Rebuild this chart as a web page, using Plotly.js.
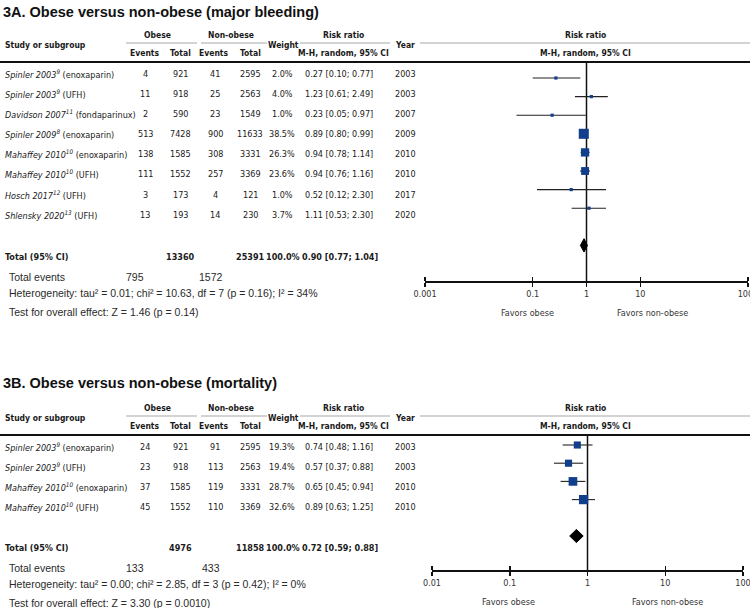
<!DOCTYPE html>
<html><head><meta charset="utf-8">
<script src="https://cdn.plot.ly/plotly-3.0.1.min.js"></script>
<style>html,body{margin:0;padding:0;background:#fff}</style>
</head><body><div id="chart" style="width:750px;height:608px"></div>
<script>
// ---------- Panel A data: major bleeding ----------
const studiesA = ['Spinler 2003', 'Spinler 2003', 'Davidson 2007', 'Spinler 2009', 'Mahaffey 2010', 'Mahaffey 2010', 'Hosch 2017', 'Shlensky 2020'];
const refsA = ['9', '9', '11', '8', '10', '10', '12', '13'];
const drugsA = ['enoxaparin', 'UFH', 'fondaparinux', 'enoxaparin', 'enoxaparin', 'UFH', 'UFH', 'UFH'];
const obeseEventsA = [4, 11, 2, 513, 138, 111, 3, 13];
const obeseTotalA = [921, 918, 590, 7428, 1585, 1552, 173, 193];
const nonObeseEventsA = [41, 25, 23, 900, 308, 257, 4, 14];
const nonObeseTotalA = [2595, 2563, 1549, 11633, 3331, 3369, 121, 230];
const weightA = [2.0, 4.0, 1.0, 38.5, 26.3, 23.6, 1.0, 3.7];
const rrA = [0.27, 1.23, 0.23, 0.89, 0.94, 0.94, 0.52, 1.11];
const lowerA = [0.10, 0.61, 0.05, 0.80, 0.78, 0.76, 0.12, 0.53];
const upperA = [0.77, 2.49, 0.97, 0.99, 1.14, 1.16, 2.30, 2.30];
const yearA = [2003, 2003, 2007, 2009, 2010, 2010, 2017, 2020];
const totalA = {obese: 13360, nonObese: 25391, weight: 100.0, rr: 0.90, lo: 0.77, hi: 1.04, evObese: 795, evNonObese: 1572};
const hetA = 'Heterogeneity: tau² = 0.01; chi² = 10.63, df = 7 (p = 0.16); I² = 34%';
const testA = 'Test for overall effect: Z = 1.46 (p = 0.14)';
const tickValsA = [0.001, 0.1, 1, 10, 1000];
const tickTextA = ['0.001', '0.1', '1', '10', '1000'];

// ---------- Panel B data: mortality ----------
const studiesB = ['Spinler 2003', 'Spinler 2003', 'Mahaffey 2010', 'Mahaffey 2010'];
const refsB = ['9', '9', '10', '10'];
const drugsB = ['enoxaparin', 'UFH', 'enoxaparin', 'UFH'];
const obeseEventsB = [24, 23, 37, 45];
const obeseTotalB = [921, 918, 1585, 1552];
const nonObeseEventsB = [91, 113, 119, 110];
const nonObeseTotalB = [2595, 2563, 3331, 3369];
const weightB = [19.3, 19.4, 28.7, 32.6];
const rrB = [0.74, 0.57, 0.65, 0.89];
const lowerB = [0.48, 0.37, 0.45, 0.63];
const upperB = [1.16, 0.88, 0.94, 1.25];
const yearB = [2003, 2003, 2010, 2010];
const totalB = {obese: 4976, nonObese: 11858, weight: 100.0, rr: 0.72, lo: 0.59, hi: 0.88, evObese: 133, evNonObese: 433};
const hetB = 'Heterogeneity: tau² = 0.00; chi² = 2.85, df = 3 (p = 0.42); I² = 0%';
const testB = 'Test for overall effect: Z = 3.30 (p = 0.0010)';
const tickValsB = [0.01, 0.1, 1, 10, 100];
const tickTextB = ['0.01', '0.1', '1', '10', '100'];

const NULL_EFFECT = 1;

// ---------- styling / layout helpers ----------
const W = 750, H = 608;
const X = p => p / W;
const Y = p => 1 - p / H;
const NARROW = '"Liberation Sans Narrow", "Arial Narrow", "DejaVu Sans Condensed", sans-serif';
const REG = '"Liberation Sans", Arial, sans-serif';
const TXT = '#1a1a1a';
const BLUE = '#123f8c';
const BODY = 9.0, HEAD = 8.5, TICK = 9.0;
const annotations = [];
const shapes = [];
const traces = [];
const layout = {
  width: W, height: H, margin: {l: 0, r: 0, t: 0, b: 0},
  paper_bgcolor: '#fff', plot_bgcolor: 'rgba(0,0,0,0)', showlegend: false
};

function txt(t, x, y, o = {}) {
  annotations.push({
    text: t, x: X(x), y: Y(y), xref: 'paper', yref: 'paper', showarrow: false,
    xanchor: o.anchor || 'center', yanchor: 'middle',
    font: {family: o.family || NARROW, size: o.size || BODY, color: o.color || TXT}
  });
}
function hline(x0, x1, y, w, c) {
  shapes.push({type: 'line', xref: 'paper', yref: 'paper', x0: X(x0), x1: X(x1), y0: Y(y), y1: Y(y),
    line: {color: c, width: w}});
}
const fmt = v => v.toFixed(2);
const rrText = (r, l, u) => `${fmt(r)} [${fmt(l)}; ${fmt(u)}]`;

function panel(d) {
  const o = d.off; // vertical pixel offset
  txt('<b>' + d.title + '</b>', 1, d.titlePx, {anchor: 'left', family: REG, size: 14.5, color: '#111'});
  const H1 = {size: HEAD};
  txt('<b>Obese</b>', 157, 35 + o, H1);
  txt('<b>Non-obese</b>', 231, 35 + o, H1);
  txt('<b>Risk ratio</b>', 343, 35 + o, H1);
  txt('<b>Risk ratio</b>', 585, 35 + o, H1);
  txt('<b>Study or subgroup</b>', 3, 45 + o, {anchor: 'left', size: HEAD});
  txt('<b>Weight</b>', 283, 45 + o, H1);
  txt('<b>Year</b>', 405, 45 + o, H1);
  txt('<b>Events</b>', 145, 53 + o, H1);
  txt('<b>Total</b>', 180, 53 + o, H1);
  txt('<b>Events</b>', 214, 53 + o, H1);
  txt('<b>Total</b>', 250, 53 + o, H1);
  txt('<b>M-H, random, 95% CI</b>', 343, 53 + o, H1);
  txt('<b>M-H, random, 95% CI</b>', 585, 53 + o, H1);
  const g = '#c4c4c4';
  hline(126, 197, 43 + o, 1.5, g);
  hline(201, 267, 43 + o, 1.5, g);
  hline(300, 390, 43 + o, 1.5, g);
  hline(420, 750, 43 + o, 1.5, g);
  hline(0, 750, 62 + o, 2, '#111');

  const n = d.studies.length;
  for (let i = 0; i < n; i++) {
    const y = 74 + o + i * 20.1;
    txt(`<i>${d.studies[i]}<sup>${d.refs[i]}</sup></i> (${d.drugs[i]})`, 3, y, {anchor: 'left'});
    txt(String(d.oe[i]), 145, y);
    txt(String(d.ot[i]), 180, y);
    txt(String(d.ne[i]), 215, y);
    txt(String(d.nt[i]), 250, y);
    txt(d.w[i].toFixed(1) + '%', 282, y);
    txt(rrText(d.rr[i], d.lo[i], d.hi[i]), 339, y);
    txt(String(d.yr[i]), 405, y);
  }
  const tY = d.totalPx;
  txt('<b>Total (95% CI)</b>', 3, tY, {anchor: 'left'});
  txt('<b>' + d.tot.obese + '</b>', 180, tY);
  txt('<b>' + d.tot.nonObese + '</b>', 250, tY);
  txt('<b>' + d.tot.weight.toFixed(1) + '%</b>', 283, tY);
  txt('<b>' + rrText(d.tot.rr, d.tot.lo, d.tot.hi) + '</b>', 340, tY);
  const F = {family: REG, size: 10.5, color: '#2a2a2a'};
  txt('Total events', 7, tY + 20, Object.assign({anchor: 'left'}, F));
  txt(String(d.tot.evObese), 135, tY + 20, F);
  txt(String(d.tot.evNonObese), 211, tY + 20, F);
  txt(d.het, 7, tY + 36, Object.assign({anchor: 'left'}, F));
  txt(d.test, 7, tY + 55, Object.assign({anchor: 'left'}, F));
  txt('Favors obese', d.favL, d.axisPx + 32, {size: TICK, color: '#333'});
  txt('Favors non-obese', d.favR, d.axisPx + 32, {size: TICK, color: '#333'});

  // forest plot axes
  const xa = 'xaxis' + d.k, ya = 'yaxis' + d.k, xo = 'xaxis' + (d.k + 2);
  const xr = 'x' + d.k, yr = 'y' + d.k, xor = 'x' + (d.k + 2);
  const yBottom = (d.axisPx - d.row0Px) / d.stepPx;
  const yTop = (d.topPx - d.row0Px) / d.stepPx;
  const dom = [X(d.x0Px), X(d.x1Px)];
  const tickCommon = {
    type: 'log', domain: dom, range: [Math.log10(d.tickVals[0]), Math.log10(d.tickVals[d.tickVals.length - 1])],
    tickmode: 'array', tickvals: d.tickVals, ticktext: d.tickText, showgrid: false, zeroline: false,
    ticks: 'outside', ticklen: 4, tickwidth: 1.5, tickcolor: '#111', fixedrange: true
  };
  layout[xa] = Object.assign({}, tickCommon, {
    anchor: yr, showline: true, linecolor: '#111', linewidth: 1.5, ticklabeloverflow: 'allow',
    tickfont: {family: NARROW, size: TICK, color: '#333'}
  });
  layout[xo] = Object.assign({}, tickCommon, {
    overlaying: xr, side: 'top', anchor: 'free', position: Y(d.axisPx), showline: false, showticklabels: false
  });
  layout[ya] = {domain: [Y(d.axisPx), Y(d.topPx)], range: [yBottom, yTop], visible: false, fixedrange: true, anchor: xr};

  const idx = d.rr.map((_, i) => i);
  traces.push({x: [NULL_EFFECT, NULL_EFFECT], y: [yTop, yBottom], xaxis: xr, yaxis: yr, mode: 'lines',
    line: {color: '#111', width: 1.5}, hoverinfo: 'skip', cliponaxis: false});
  const cx = [], cy = [];
  idx.forEach(i => { cx.push(d.lo[i], d.hi[i], null); cy.push(i, i, null); });
  traces.push({x: cx, y: cy, xaxis: xr, yaxis: yr, mode: 'lines', line: {color: '#222', width: 1.1}, hoverinfo: 'skip'});
  traces.push({x: d.rr, y: idx, xaxis: xr, yaxis: yr, mode: 'markers',
    marker: {symbol: 'square', color: BLUE, opacity: 1, size: d.w.map(w => Math.max(3.2, 1.62 * Math.sqrt(w))), line: {width: 0}},
    hoverinfo: 'skip'});
  const dy = d.diamondRow, h = 0.36;
  traces.push({x: [d.tot.lo, d.tot.rr, d.tot.hi, d.tot.rr, d.tot.lo], y: [dy, dy - h, dy, dy + h, dy],
    xaxis: xr, yaxis: yr, mode: 'lines', fill: 'toself', fillcolor: '#000', line: {color: '#000', width: 1}, hoverinfo: 'skip'});
  traces.push({x: [NULL_EFFECT], y: [0], xaxis: xor, yaxis: yr, mode: 'markers', marker: {opacity: 0}, hoverinfo: 'skip'});
}

panel({k: 1, off: 0, titlePx: 12, title: '3A. Obese versus non-obese (major bleeding)',
  studies: studiesA, refs: refsA, drugs: drugsA, oe: obeseEventsA, ot: obeseTotalA, ne: nonObeseEventsA, nt: nonObeseTotalA,
  w: weightA, rr: rrA, lo: lowerA, hi: upperA, yr: yearA, tot: totalA, het: hetA, test: testA,
  tickVals: tickValsA, tickText: tickTextA, totalPx: 257, axisPx: 281, topPx: 62, row0Px: 78, stepPx: 18.6,
  x0Px: 425, x1Px: 748, diamondRow: 9, favL: 527, favR: 652});
panel({k: 2, off: 373, titlePx: 383, title: '3B. Obese versus non-obese (mortality)',
  studies: studiesB, refs: refsB, drugs: drugsB, oe: obeseEventsB, ot: obeseTotalB, ne: nonObeseEventsB, nt: nonObeseTotalB,
  w: weightB, rr: rrB, lo: lowerB, hi: upperB, yr: yearB, tot: totalB, het: hetB, test: testB,
  tickVals: tickValsB, tickText: tickTextB, totalPx: 548, axisPx: 570, topPx: 435, row0Px: 445, stepPx: 18.2,
  x0Px: 432, x1Px: 743, diamondRow: 5, favL: 508, favR: 667});

layout.annotations = annotations;
layout.shapes = shapes;
Plotly.newPlot('chart', traces, layout, {staticPlot: true, displayModeBar: false});
</script></body></html>
